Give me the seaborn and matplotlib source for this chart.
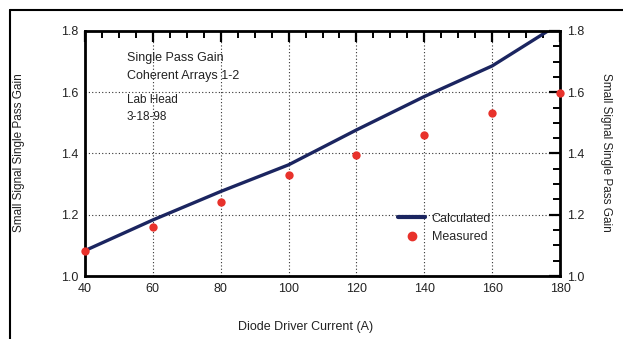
import numpy as np
import pandas as pd
import matplotlib
matplotlib.use("Agg")
import matplotlib.pyplot as plt
import seaborn as sns
from matplotlib.ticker import MultipleLocator
from matplotlib.lines import Line2D

# data
current = [40, 60, 80, 100, 120, 140, 160, 180]
calculated = [1.083, 1.183, 1.276, 1.363, 1.477, 1.586, 1.686, 1.825]
measured = [1.082, 1.160, 1.243, 1.330, 1.395, 1.462, 1.533, 1.598]

df = pd.DataFrame({"current": current, "calculated": calculated, "measured": measured})

sns.set_theme(style="white")
plt.rcParams['font.family'] = ['Liberation Sans', 'DejaVu Sans']

fig = plt.figure(figsize=(6.23, 3.39), dpi=100)
ax = fig.add_axes([0.1364, 0.1858, 0.7626, 0.7228])

navy = "#1b2560"
red = "#e8322b"

sns.lineplot(data=df, x="current", y="calculated", ax=ax, color=navy, linewidth=2.4)
sns.scatterplot(data=df, x="current", y="measured", ax=ax, color=red, s=36,
                edgecolor=red, linewidth=0, zorder=5, clip_on=False)

ax.set_xlim(40, 180)
ax.set_ylim(1.0, 1.8)
ax.xaxis.set_major_locator(MultipleLocator(20))
ax.xaxis.set_minor_locator(MultipleLocator(5))
ax.yaxis.set_major_locator(MultipleLocator(0.2))
ax.yaxis.set_minor_locator(MultipleLocator(0.05))
ax.yaxis.set_major_formatter(matplotlib.ticker.FormatStrFormatter('%.1f'))

ax.grid(True, which="major", color="#333333", linestyle=(0, (1, 2)), linewidth=0.8)
ax.tick_params(which="both", direction="in", top=True, right=True,
               labelright=True, color="black", labelsize=9, labelcolor="#222222")
ax.tick_params(which="major", length=8, width=1.6, pad=5)
ax.tick_params(which="minor", length=5, width=1.4)
for s in ax.spines.values():
    s.set_color("black")
    s.set_linewidth(2)

ax.set_xlabel("")
ax.set_ylabel("")
fig.text(0.49, 0.035, "Diode Driver Current (A)", fontsize=9, color="#222222",
         ha="center", va="center")
fig.text(0.03, 0.55, "Small Signal Single Pass Gain", rotation=90, fontsize=8.5,
         color="#222222", ha="center", va="center")
fig.text(0.972, 0.55, "Small Signal Single Pass Gain", rotation=270, fontsize=8.5,
         color="#222222", ha="center", va="center")

for i, t in enumerate(["Single Pass Gain", "Coherent Arrays 1-2"]):
    ax.text(0.088, 0.89 - i * 0.075, t, transform=ax.transAxes, fontsize=9,
            color="#222222", va="center")
for i, t in enumerate(["Lab Head", "3-18-98"]):
    ax.text(0.088, 0.72 - i * 0.07, t, transform=ax.transAxes, fontsize=8.5,
            color="#222222", va="center")

handles = [Line2D([], [], color=navy, linewidth=3),
           Line2D([], [], color=red, marker="o", linestyle="none", markersize=6,
                  markerfacecolor=red, markeredgecolor=red)]
ax.legend(handles, ["Calculated", "Measured"], loc="upper left",
          bbox_to_anchor=(0.635, 0.305), frameon=False, fontsize=9,
          handlelength=2.2, handletextpad=0.5, labelspacing=0.55)

# outer frame of the scan
fig.add_artist(Line2D([0.016, 0.016], [0.0, 0.97], transform=fig.transFigure,
                      color="black", linewidth=1.5))
fig.add_artist(Line2D([0.016, 1.0], [0.97, 0.97], transform=fig.transFigure,
                      color="black", linewidth=1.5))

fig.savefig("out.png", dpi=100)
